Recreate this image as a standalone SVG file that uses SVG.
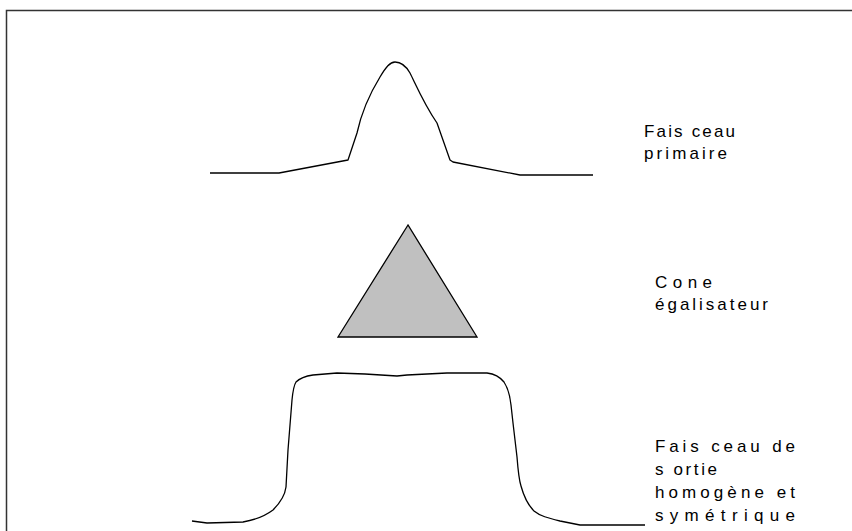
<svg xmlns="http://www.w3.org/2000/svg" width="852" height="531" viewBox="0 0 852 531">
<style>
.c{fill:none;stroke:#000;stroke-width:1.3;stroke-linejoin:round}
.t{font-family:"Liberation Sans",Arial,sans-serif;font-size:17px;fill:#000}
</style>
<rect width="852" height="531" fill="#fff"/>
<g id="frame"><path d="M6.5 531 V10.5 H852" fill="none" stroke="#333" stroke-width="1.5"/></g>
<g id="primary-beam">
<path class="c" d="M210 173 L279 173 L348 160 L357 133 C362 110 372 90 380 77 C386 67 390 62 395 62 C401 62 406 66 410 73 C416 85 424 104 437 123 L450 160 L453 162 L520 175 L593 175"/>
<text class="t" x="644" y="137" textLength="91" lengthAdjust="spacing">Fais ceau</text>
<text class="t" x="644" y="159" textLength="83" lengthAdjust="spacing">primaire</text>
</g>
<g id="cone">
<polygon points="408,225 338,337 477,337" fill="#c0c0c0" stroke="#000" stroke-width="1.3"/>
<text class="t" x="655" y="288" textLength="57" lengthAdjust="spacing">Cone</text>
<text class="t" x="655" y="310" textLength="113" lengthAdjust="spacing">égalisateur</text>
</g>
<g id="output-beam">
<path class="c" d="M192 521 L207 523 L243 522 C255 520 265 516 273 510 C280 503 285 495 286 487 L288 450 L292 400 C293 390 294 385 296 382 C300 378 306 376 313 375 L337 373 L365 374 L397 376 L407 375 L447 373 L487 373 C495 374 500 377 504 382 C508 388 510 396 511 405 L513 423 L517 457 C518 470 519 480 521 486 C524 497 528 505 534 511 C540 516 548 518 560 521 L580 525 L645 525"/>
<text class="t" x="655" y="452" textLength="140" lengthAdjust="spacing">Fais ceau de</text>
<text class="t" x="655" y="475" textLength="62" lengthAdjust="spacing">s ortie</text>
<text class="t" x="655" y="498" textLength="140" lengthAdjust="spacing">homogène et</text>
<text class="t" x="655" y="521" textLength="140" lengthAdjust="spacing">symétrique</text>
</g>
</svg>
